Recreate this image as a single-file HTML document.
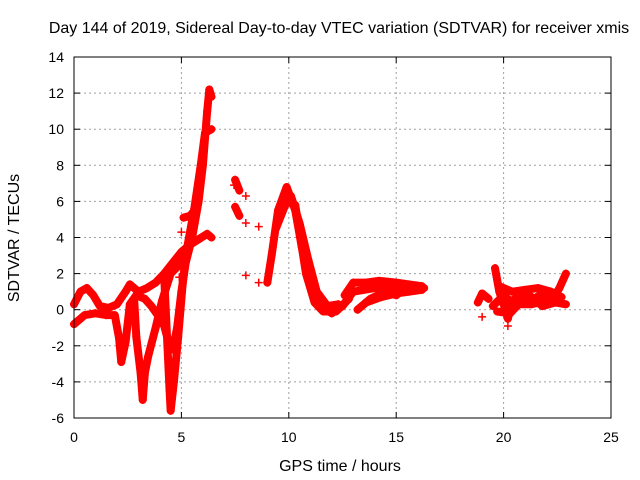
<!DOCTYPE html>
<html><head><meta charset="utf-8"><style>
body{margin:0;background:#fff;}
svg{display:block;font-family:"Liberation Sans",sans-serif;}
</style></head><body>
<svg id="chart" width="640" height="480">
<text x="339" y="33" font-size="16" text-anchor="middle">Day 144 of 2019, Sidereal Day-to-day VTEC variation (SDTVAR) for receiver xmis</text>
<text x="340" y="471" font-size="16" text-anchor="middle">GPS time / hours</text>
<text x="19" y="238" font-size="16" text-anchor="middle" transform="rotate(-90 19 238)">SDTVAR / TECUs</text>
<g id="grid"></g><g id="marks"></g><g id="axes"></g>
</svg>
<script>
const xTicks=[0,5,10,15,20,25];
const yTicks=[-6,-4,-2,0,2,4,6,8,10,12,14];
const track1=[[0,0.3],[0.3,1.0],[0.6,1.2],[0.9,0.8],[1.2,0.2],[1.6,0.1],[2.0,0.3],[2.4,1.0],[2.6,1.4],[3.0,1.0],[3.4,1.2],[3.8,1.5],[4.2,2.0],[4.6,2.6],[5.0,3.2],[5.4,3.6],[5.8,3.9],[6.2,4.2],[6.4,4.0]];
const track2=[[0,-0.8],[0.5,-0.3],[1.0,-0.2],[1.5,-0.3],[1.9,-0.3],[2.1,-1.6],[2.2,-2.9],[2.4,-1.8],[2.6,0.3],[2.9,0.8],[3.3,0.6],[3.6,0.2],[3.9,-0.3],[4.2,-0.9],[4.4,-1.8],[4.6,-2.2],[4.8,-1.0],[5.0,1.0],[5.2,2.6],[5.5,4.0],[5.8,6.0],[6.0,8.0],[6.1,9.5],[6.2,11.0],[6.3,12.2],[6.4,11.8]];
const track3=[[2.8,0.6],[2.9,-1.5],[3.1,-3.5],[3.2,-5.0],[3.3,-3.5],[3.45,-2.6],[3.8,-1.0],[4.1,0.5],[4.5,2.0],[5.0,2.6]];
const track4=[[4.2,1.8],[4.35,-2.0],[4.45,-4.5],[4.5,-5.6],[4.65,-4.0],[4.85,-1.5],[5.05,1.3],[5.2,3.0],[5.6,5.6],[5.9,8.0],[6.1,9.8],[6.4,10.0]];
const track5=[[5.1,5.1],[5.4,5.2],[5.7,5.6]];
const track6=[[7.5,7.2],[7.7,6.6]];
const track7=[[7.5,5.7],[7.7,5.2]];
const track8=[[9.0,1.5],[9.2,3.0],[9.5,5.5],[9.9,6.8],[10.3,5.5],[10.6,3.5],[11.0,1.5],[11.5,0.2],[12.0,-0.2],[12.5,0.2],[13.0,1.0],[14.0,1.2],[15.0,1.3],[15.8,1.1],[16.3,1.2]];
const track9=[[9.4,4.5],[9.9,6.0],[10.3,5.8],[10.8,2.0],[11.2,0.4],[11.6,-0.1],[12.2,-0.1],[12.8,0.6]];
const track10=[[13.2,0.0],[13.8,0.6],[14.5,1.0],[15.0,0.8],[15.5,1.3]];
const track11=[[18.8,0.4],[19.0,0.9],[19.3,0.6]];
const track12=[[19.6,2.3],[19.8,1.0],[20.0,0.3],[20.2,-0.5],[20.4,0.5],[20.8,0.8],[21.3,0.5],[21.8,0.9],[22.3,0.6],[22.6,1.2],[22.9,2.0]];
const track13=[[19.5,0.2],[20.0,0.8],[20.6,0.2],[21.2,0.8],[21.8,0.2],[22.4,0.4],[22.9,0.3]];
const track14=[[12.6,0.8],[13.0,1.5],[13.6,1.5],[14.2,1.6],[15.0,1.5],[15.6,1.4],[16.2,1.3]];
const track15=[[13.6,0.4],[14.3,0.7],[15.0,0.9],[15.6,1.0],[16.2,1.1]];
const track16=[[10.1,6.3],[10.5,4.8],[10.9,2.8],[11.3,1.0],[11.8,0.2],[12.3,0.3]];
const track17=[[19.8,1.3],[20.4,1.0],[21.0,1.1],[21.6,1.2],[22.2,1.0],[22.7,0.7]];
const track18=[[19.7,-0.1],[20.3,-0.2],[20.7,0.3],[21.3,0.3],[22.0,0.5]];
const isolated=[[8.0,6.3],[8.0,4.8],[8.0,1.9],[8.6,4.6],[8.6,1.5],[7.45,6.9],[19.0,-0.4],[20.2,-0.9],[4.9,1.8],[5.0,4.3]];
const tracks=[track1,track2,track3,track4,track5,track6,track7,track8,track9,track10,track11,track12,track13,track14,track15,track16,track17,track18];

const L=74,R=611,T=57,B=418;
const X=h=>L+(h-0)/(25-0)*(R-L);
const Y=v=>B-(v+6)/(20)*(B-T);
const NS="http://www.w3.org/2000/svg";
function mk(tag,attrs,parent){const e=document.createElementNS(NS,tag);for(const k in attrs)e.setAttribute(k,attrs[k]);parent.appendChild(e);return e;}
const grid=document.getElementById('grid'),marks=document.getElementById('marks'),axes=document.getElementById('axes');
xTicks.forEach(t=>{
  const g=mk('line',{x1:X(t),x2:X(t),y1:T,y2:B,stroke:'#a0a0a0','stroke-dasharray':'2,3'},grid);
  
  
  const tx=mk('text',{x:X(t),y:B+24,'font-size':14,'text-anchor':'middle'},axes);tx.textContent=t;
  
  
  mk('line',{x1:X(t),x2:X(t),y1:B,y2:B-6,stroke:'#000'},axes);
  mk('line',{x1:X(t),x2:X(t),y1:T,y2:T+6,stroke:'#000'},axes);
});
yTicks.forEach(t=>{
  const g=mk('line',{x1:L,x2:R,y1:Y(t),y2:Y(t),stroke:'#a0a0a0','stroke-dasharray':'2,3'},grid);
  
  
  const tx=mk('text',{x:L-10,y:Y(t)+5,'font-size':14,'text-anchor':'end'},axes);tx.textContent=t;
  
  
  mk('line',{x1:L,x2:L+6,y1:Y(t),y2:Y(t),stroke:'#000'},axes);
  mk('line',{x1:R,x2:R-6,y1:Y(t),y2:Y(t),stroke:'#000'},axes);
});
const frame=mk('rect',{x:L,y:T,width:R-L,height:B-T,fill:'none',stroke:'#000'},axes);


function plus(h,v,col){
  const p=mk('path',{d:`M${X(h)-4},${Y(v)}h8M${X(h)},${Y(v)-4}v8`,stroke:col,'stroke-width':1.5},marks);
  
  
}
tracks.forEach(tr=>{
  const pl=mk('polyline',{points:tr.map(p=>X(p[0])+','+Y(p[1])).join(' '),fill:'none',stroke:'#ff0000','stroke-width':8,'stroke-linejoin':'round','stroke-linecap':'round'},marks);
  
  
  tr.forEach(p=>plus(p[0],p[1],'#ff0000'));
});
isolated.forEach(p=>plus(p[0],p[1],'#ff0000'));
</script>
</body></html>
